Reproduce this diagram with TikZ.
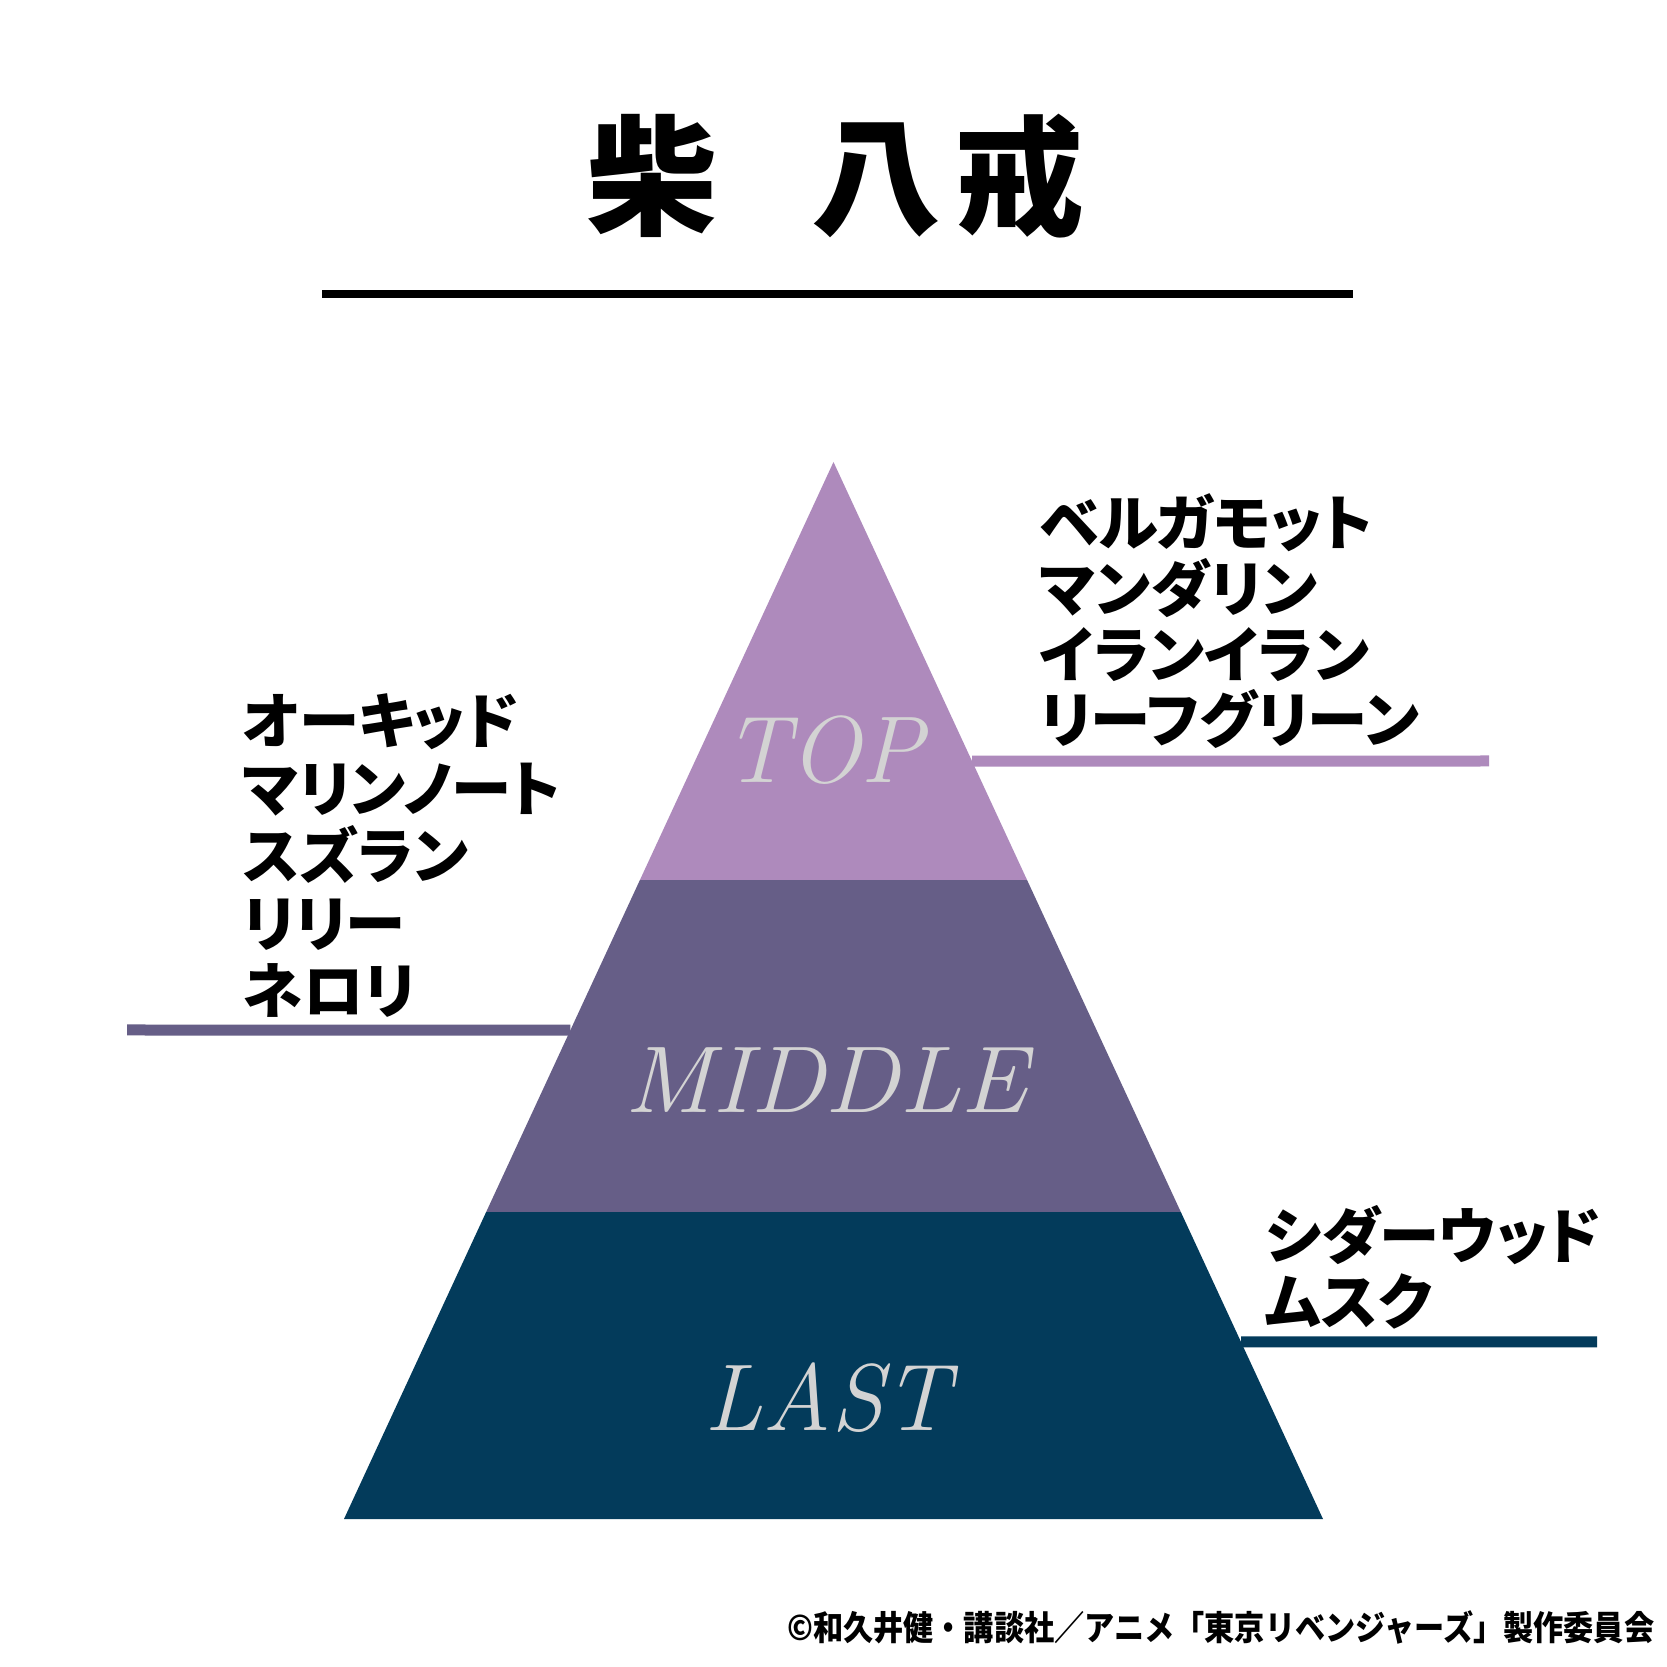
\documentclass[tikz,border=0pt]{standalone}
\usepackage{fontspec}
\newfontfamily\jpfont{Noto Sans CJK JP}
\newfontfamily\jpprop[RawFeature=+palt]{Noto Sans CJK JP}
\newfontfamily\jpnarrow[FakeStretch=0.885]{Noto Sans CJK JP}
\usetikzlibrary{calc}
\definecolor{ctop}{HTML}{AE8ABC}
\definecolor{cmid}{HTML}{665E87}
\definecolor{clast}{HTML}{033B5B}
\definecolor{clabel}{HTML}{D3D3D3}
\tikzset{
  title/.style={font=\jpfont\bfseries\fontsize{37}{37}\selectfont, inner sep=0pt},
  tier/.style={font=\fontsize{27}{27}\selectfont\itshape, text=clabel, inner sep=0pt},
  notes/.style={font=\jpprop\bfseries\fontsize{17.2}{18.7}\selectfont, align=left, anchor=north west, inner sep=0pt},
  rule/.style={draw=#1, line width=0.11cm},
}

\begin{document}
\begin{tikzpicture}
  \useasboundingbox[fill=white] (0,0) rectangle (16.67,16.67);
  % title
  \node[title, anchor=west] (name) at (5.87,14.905) {柴\hspace{0.72em}八\hspace{0.1em}戒};
  \coordinate (ruleL) at (3.22,13.73);
  \coordinate (ruleR) at (13.53,13.73);
  \draw[line width=0.08cm] (ruleL) -- (ruleR);
  % pyramid, cut into three tiers
  \coordinate (apex) at (8.335,12.05);
  \coordinate (bl) at (3.44,1.48);
  \coordinate (br) at (13.23,1.48);
  \begin{scope}
    \clip (apex) -- (bl) -- (br) -- cycle;
    \fill[ctop] (3,12.2) rectangle (14,7.87);
    \fill[cmid] (3,7.87) rectangle (14,4.55);
    \fill[clast] (3,4.55) rectangle (14,1.4);
  \end{scope}
  \node[tier] (top) at (8.235,9.17) {TOP};
  \node[tier, xscale=1.06] (middle) at (8.26,5.87) {MIDDLE};
  \node[tier] (last) at (8.27,2.69) {LAST};
  % notes with their rules
  \coordinate (topend) at (14.89,9.06);
  \coordinate (midend) at (1.27,6.37);
  \coordinate (lastend) at (15.97,3.25);
  \draw[rule=ctop] ($(apex)!0.283!(br)$) -- (topend);
  \draw[rule=cmid] (midend) -- ($(apex)!0.5374!(bl)$);
  \draw[rule=clast] ($(apex)!0.8325!(br)$) -- (lastend);
  \node[notes] (topnotes) at (10.39,11.74) {ベルガモット\\マンダリン\\イランイラン\\リーフグリーン};
  \node[notes, font=\jpprop\bfseries\fontsize{17.2}{19.2}\selectfont] (midnotes) at (2.42,9.74) {オーキッド\\マリンノート\\スズラン\\リリー\\ネロリ};
  \node[notes] (lastnotes) at (12.65,4.62) {シダーウッド\\ムスク};
  % credit
  \node[font=\jpnarrow\bfseries\fontsize{9.7}{9.7}\selectfont, anchor=east, inner sep=0pt] (credit) at (16.55,0.40) {©和久井健・講談社／アニメ「東京リベンジャーズ」製作委員会};
\end{tikzpicture}
\end{document}
